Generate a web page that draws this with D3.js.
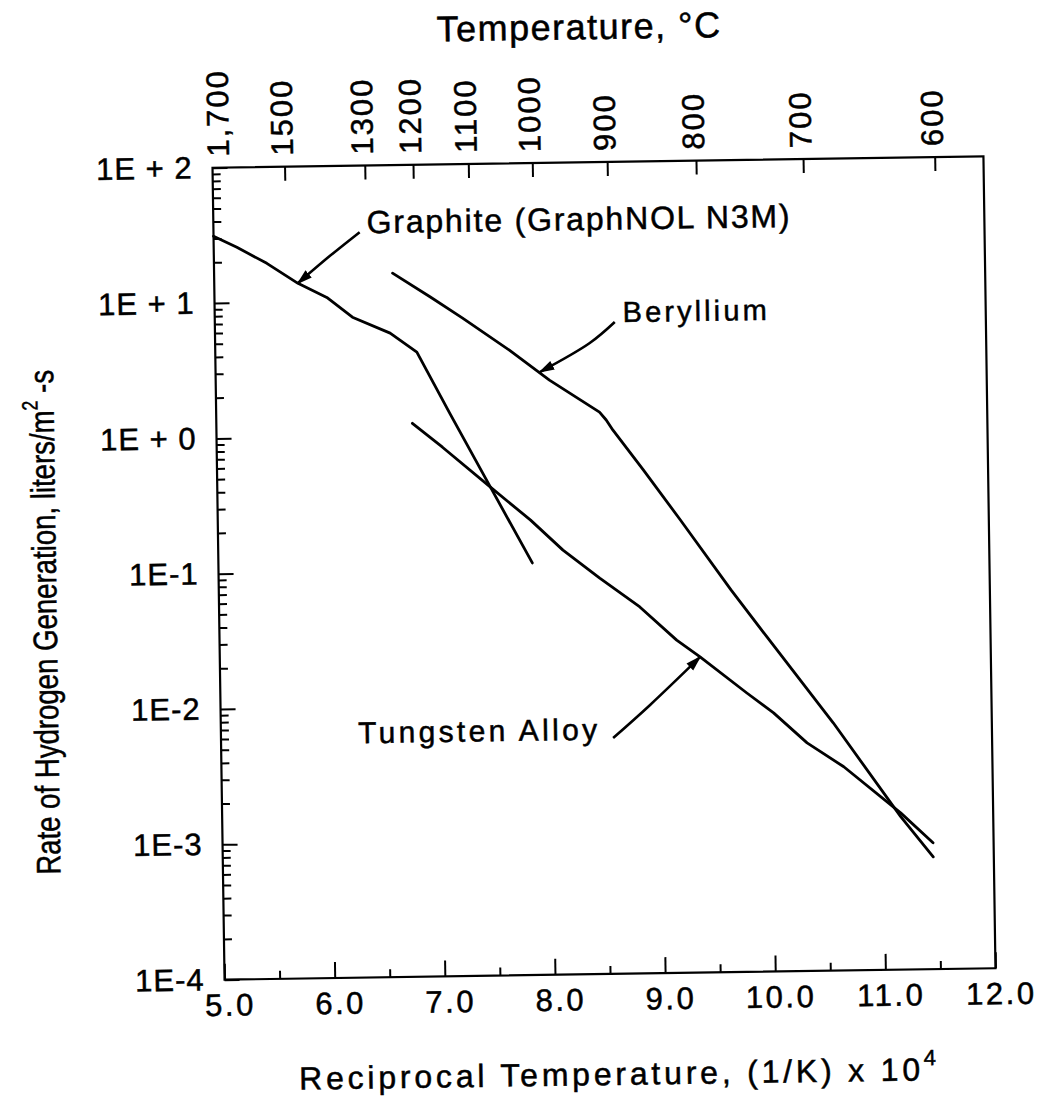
<!DOCTYPE html>
<html><head><meta charset="utf-8">
<script src="https://cdn.jsdelivr.net/npm/d3@7"></script>
<style>body{margin:0;background:#fff} text{stroke:#000;stroke-width:0.5px}</style>
</head><body><svg id="c" width="1043" height="1098"></svg>
<script>
// ---- data (x = reciprocal temperature (1/K)x1e4, rate = liters/m2-s) ----
const graphiteX    = [5.0, 5.21, 5.48, 5.76, 6.02, 6.25, 6.59, 6.83, 7.12, 7.48, 7.85];
const graphiteRate = [31.2, 25.7, 19.4, 13.7, 10.7, 7.6, 5.74, 4.12, 1.45, 0.407, 0.111];
const berylliumX    = [6.62, 6.96, 7.25, 7.67, 8.03, 8.48, 8.54, 8.60, 8.87, 9.20, 9.65, 9.97, 10.56, 11.16, 11.45];
const berylliumRate = [15.9, 10.5, 7.28, 4.17, 2.48, 1.42, 1.24, 1.04, 0.525, 0.222, 0.0667, 0.0297, 0.00678, 0.00135, 0.000676];
const tungstenX    = [6.78, 7.05, 7.48, 7.84, 8.13, 8.46, 8.82, 9.15, 9.36, 9.78, 10.02, 10.32, 10.65, 11.16, 11.45];
const tungstenRate = [1.23, 0.813, 0.407, 0.230, 0.137, 0.0843, 0.0511, 0.0288, 0.0215, 0.0115, 0.00815, 0.00485, 0.00320, 0.00144, 0.000859];

const xTickValues = [5, 6, 7, 8, 9, 10, 11, 12];
const xMinorTicks = [5.5, 6.5, 7.5, 8.5, 9.5, 10.5, 11.5];
const yTickValues = [1e2, 1e1, 1e0, 1e-1, 1e-2, 1e-3, 1e-4];
const yTickLabels = ["1E + 2", "1E + 1", "1E + 0", "1E-1", "1E-2", "1E-3", "1E-4"];
const tempTicksC = [1700, 1500, 1300, 1200, 1100, 1000, 900, 800, 700, 600];
const tempTickLabels = ["1,700", "1500", "1300", "1200", "1100", "1000", "900", "800", "700", "600"];

// annotations (data coordinates)
const annoLabels = ["Graphite (GraphNOL N3M)", "Beryllium", "Tungsten Alloy"];
const annoTextPos = [[6.391, 31.6], [8.704, 6.53], [6.245, 0.0054]];
const annoArrows = [
  [[6.327, 32.2], [6.052, 21.6], [5.758, 13.7]],
  [[8.631, 6.55], [8.401, 4.61], [7.944, 2.85]],
  [[8.560, 0.00553], [8.900, 0.00962], [9.361, 0.0215]]
];

// ---- layout ----
const L = 218.5, R = 989.5, T = 162, B = 974;
const font = "'Liberation Sans', Arial, Helvetica, sans-serif";
const svg = d3.select("#c");
const defs = svg.append("defs");
defs.append("marker").attr("id", "ah").attr("viewBox", "0 0 10 10")
  .attr("refX", 9).attr("refY", 5).attr("markerWidth", 16).attr("markerHeight", 16)
  .attr("markerUnits", "userSpaceOnUse").attr("orient", "auto")
  .append("path").attr("d", "M0,2 L10,5 L0,8 Z").attr("fill", "#000");

const g = svg.append("g").attr("transform", "rotate(-0.85,604,568)");

const x = d3.scaleLinear().domain([5, 12]).range([L, R]);
const xTop = d3.scaleLinear().domain([5, 12]).range([L + 0.5, L + 0.5 + (R - L) * 1.0155]);
const y = d3.scaleLog().domain([1e-4, 1e2]).range([B, T]);
const toRecip = c => 1e4 / (c + 273.15);

function styleAxis(a, fs, ls) {
  a.select(".domain").remove();
  a.selectAll("line").attr("stroke", "#000").attr("stroke-width", 2);
  a.selectAll("text").attr("font-size", fs).attr("font-family", font)
    .attr("letter-spacing", ls).attr("fill", "#000");
}

// bottom axis
g.append("g").attr("transform", `translate(0,${B})`)
  .call(d3.axisBottom(x).tickValues(xTickValues).tickFormat(d3.format(".1f"))
    .tickSizeInner(-16).tickSizeOuter(0).tickPadding(14))
  .call(a => styleAxis(a, 31, 2.5))
  .call(a => a.selectAll("text").attr("dx", 5));
g.append("g").attr("transform", `translate(0,${B})`)
  .call(d3.axisBottom(x).tickValues(xMinorTicks).tickFormat("").tickSizeInner(-8).tickSizeOuter(0))
  .call(a => styleAxis(a, 10, 0));

// left axis
const yMinor = [];
for (let e = -4; e < 2; e++) for (let m = 2; m <= 9; m++) yMinor.push(m * Math.pow(10, e));
g.append("g").attr("transform", `translate(${L},0)`)
  .call(d3.axisLeft(y).tickValues(yTickValues).tickFormat((d, i) => yTickLabels[i])
    .tickSizeInner(-15).tickSizeOuter(0).tickPadding(20))
  .call(a => styleAxis(a, 31, 1));
g.append("g").attr("transform", `translate(${L},0)`)
  .call(d3.axisLeft(y).tickValues(yMinor).tickFormat("").tickSizeInner(-8).tickSizeOuter(0))
  .call(a => styleAxis(a, 10, 0));

// top axis (temperature, C)
g.append("g").attr("transform", `translate(0,${T})`)
  .call(d3.axisTop(xTop).tickValues(tempTicksC.map(toRecip)).tickFormat((d, i) => tempTickLabels[i])
    .tickSizeInner(-14).tickSizeOuter(0))
  .call(a => styleAxis(a, 31, 2))
  .call(a => {
    a.selectAll(".tick").filter((d, i) => i === 0).select("line").remove();
    a.selectAll("text").attr("transform", "rotate(-90)").attr("x", 11).attr("y", 8)
      .attr("dy", null).attr("text-anchor", "start");
  });

// frame
g.append("rect").attr("x", L).attr("y", T).attr("width", R - L).attr("height", B - T)
  .attr("fill", "none").attr("stroke", "#000").attr("stroke-width", 2.2);

// series
const line = d3.line().x(d => x(d[0])).y(d => y(d[1]));
[[graphiteX, graphiteRate], [berylliumX, berylliumRate], [tungstenX, tungstenRate]].forEach(([xs, vs]) => {
  g.append("path").datum(xs.map((v, i) => [v, vs[i]])).attr("d", line)
    .attr("fill", "none").attr("stroke", "#000").attr("stroke-width", 2.8)
    .attr("stroke-linejoin", "round").attr("stroke-linecap", "round");
});

// annotations
const arrowLine = d3.line().x(d => x(d[0])).y(d => y(d[1])).curve(d3.curveCatmullRom);
annoArrows.forEach(pts => {
  g.append("path").datum(pts).attr("d", arrowLine).attr("fill", "none")
    .attr("stroke", "#000").attr("stroke-width", 2.6).attr("marker-end", "url(#ah)");
});
const annoSizes = [32, 29, 30], annoLens = [423, 144, 239];
annoLabels.forEach((t, i) => {
  g.append("text").attr("x", x(annoTextPos[i][0])).attr("y", y(annoTextPos[i][1]))
    .attr("font-family", font).attr("font-size", annoSizes[i])
    .attr("textLength", annoLens[i]).attr("lengthAdjust", "spacing")
    .attr("fill", "#000").text(t);
});

// titles
const tt = g.append("text").attr("x", 587).attr("y", 39).attr("text-anchor", "middle")
  .attr("font-family", font).attr("font-size", 36).attr("letter-spacing", 1.5).attr("fill", "#000");
tt.text("Temperature, °C");

const xt = g.append("text").attr("x", 612).attr("y", 1085).attr("text-anchor", "middle")
  .attr("font-family", font).attr("font-size", 32).attr("letter-spacing", 3.8).attr("fill", "#000");
xt.append("tspan").text("Reciprocal Temperature, (1/K) x 10");
xt.append("tspan").attr("font-size", 22).attr("dy", -15).text("4");

const yt = g.append("text").attr("transform", "translate(56,614) rotate(-90)").attr("text-anchor", "middle")
  .attr("font-family", "'Liberation Sans Narrow', 'Arial Narrow', 'Liberation Sans', Arial, sans-serif")
  .attr("font-size", 34).attr("textLength", 505).attr("lengthAdjust", "spacingAndGlyphs")
  .attr("stroke-width", 0.8).attr("fill", "#000");
yt.append("tspan").text("Rate of Hydrogen Generation, liters/m");
yt.append("tspan").attr("font-size", 22).attr("dy", -16).text("2");
yt.append("tspan").attr("dy", 16).text(" -s");
</script></body></html>
